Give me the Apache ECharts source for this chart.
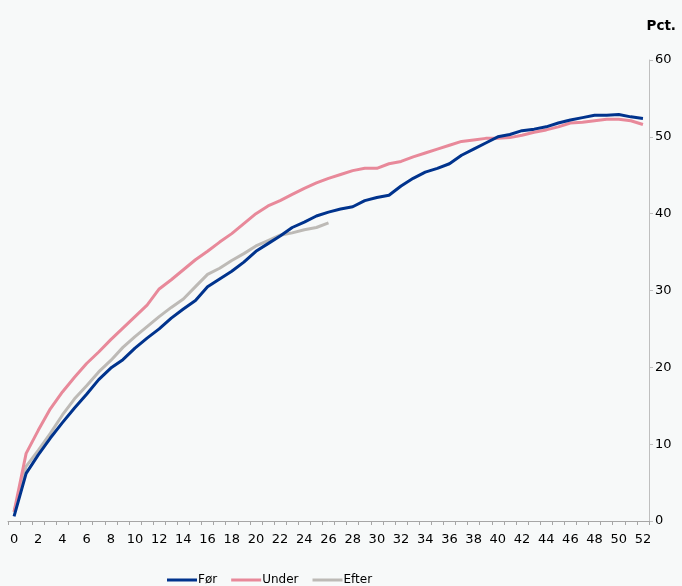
<!DOCTYPE html>
<html>
<head>
<meta charset="utf-8">
<script src="https://cdn.jsdelivr.net/npm/echarts@6/dist/echarts.min.js"></script>
<style>
html,body{margin:0;padding:0;background:#f7f9f9;}
#chart{width:682px;height:586px;}
</style>
</head>
<body>
<div id="chart"></div>
<script>
const weeks = [];
for (let i = 0; i <= 52; i++) weeks.push(String(i));

const seriesNames = ['Før', 'Under', 'Efter'];

const foer = [0.6, 6.2, 8.6, 10.8, 12.8, 14.7, 16.5, 18.4, 19.9, 21.0, 22.5, 23.8, 25.0, 26.4, 27.6, 28.7, 30.5, 31.5, 32.5, 33.7, 35.1, 36.1, 37.1, 38.2, 38.9, 39.7, 40.2, 40.6, 40.9, 41.7, 42.1, 42.4, 43.6, 44.6, 45.4, 45.9, 46.5, 47.6, 48.4, 49.2, 50.0, 50.3, 50.8, 51.0, 51.3, 51.8, 52.2, 52.5, 52.8, 52.8, 52.9, 52.6, 52.4];

const under = [1.2, 8.8, 11.8, 14.6, 16.8, 18.7, 20.5, 22.0, 23.6, 25.1, 26.6, 28.1, 30.2, 31.4, 32.7, 34.0, 35.1, 36.3, 37.4, 38.7, 40.0, 41.0, 41.7, 42.5, 43.3, 44.0, 44.6, 45.1, 45.6, 45.9, 45.9, 46.5, 46.8, 47.4, 47.9, 48.4, 48.9, 49.4, 49.6, 49.8, 49.8, 49.9, 50.2, 50.6, 50.9, 51.3, 51.8, 51.9, 52.1, 52.3, 52.3, 52.1, 51.6];

const efter = [1.2, 7.1, 9.2, 11.4, 13.8, 15.9, 17.6, 19.4, 20.9, 22.6, 24.0, 25.3, 26.6, 27.8, 28.9, 30.5, 32.1, 32.9, 33.9, 34.8, 35.8, 36.5, 37.2, 37.5, 37.9, 38.2, 38.8];

const colors = ['#00338d', '#e8899a', '#bdbab6'];
const font = 'DejaVu Sans, Verdana, sans-serif';

const chart = echarts.init(document.getElementById('chart'), null, {renderer: 'canvas'});
chart.setOption({
  backgroundColor: '#f7f9f9',
  animation: false,
  color: colors,
  textStyle: {fontFamily: font},
  title: {
    text: 'Pct.',
    right: 1,
    top: 14,
    textStyle: {fontFamily: font, fontSize: 13.5, fontWeight: 'bold', color: '#000'}
  },
  legend: {
    data: seriesNames,
    left: 162,
    top: 569,
    itemWidth: 30,
    itemHeight: 3,
    itemGap: 14,
    icon: 'rect',
    textStyle: {fontFamily: font, fontSize: 12, color: '#000', padding: [0, 0, 0, -4]}
  },
  grid: {left: 8, top: 60, width: 641, height: 461, containLabel: false},
  xAxis: {
    type: 'category',
    data: weeks,
    boundaryGap: true,
    axisLine: {lineStyle: {color: '#a6a6a6', width: 1}},
    axisTick: {show: true, interval: 0, length: 4, lineStyle: {color: '#a6a6a6'}},
    axisLabel: {interval: 1, color: '#000', fontSize: 13, fontFamily: font, margin: 12}
  },
  yAxis: {
    type: 'value',
    position: 'right',
    min: 0,
    max: 60,
    interval: 10,
    splitLine: {show: false},
    axisLine: {show: true, lineStyle: {color: '#bfbfbf', width: 1}},
    axisTick: {show: true, length: 4, lineStyle: {color: '#bfbfbf'}},
    axisLabel: {color: '#000', fontSize: 13, fontFamily: font, margin: 6}
  },
  series: [
    {name: seriesNames[0], type: 'line', data: foer, showSymbol: false, symbol: 'none', lineStyle: {width: 3, color: colors[0]}, z: 3},
    {name: seriesNames[1], type: 'line', data: under, showSymbol: false, symbol: 'none', lineStyle: {width: 3, color: colors[1]}, z: 2},
    {name: seriesNames[2], type: 'line', data: efter, showSymbol: false, symbol: 'none', lineStyle: {width: 3, color: colors[2]}, z: 1}
  ]
});
</script>
</body>
</html>
